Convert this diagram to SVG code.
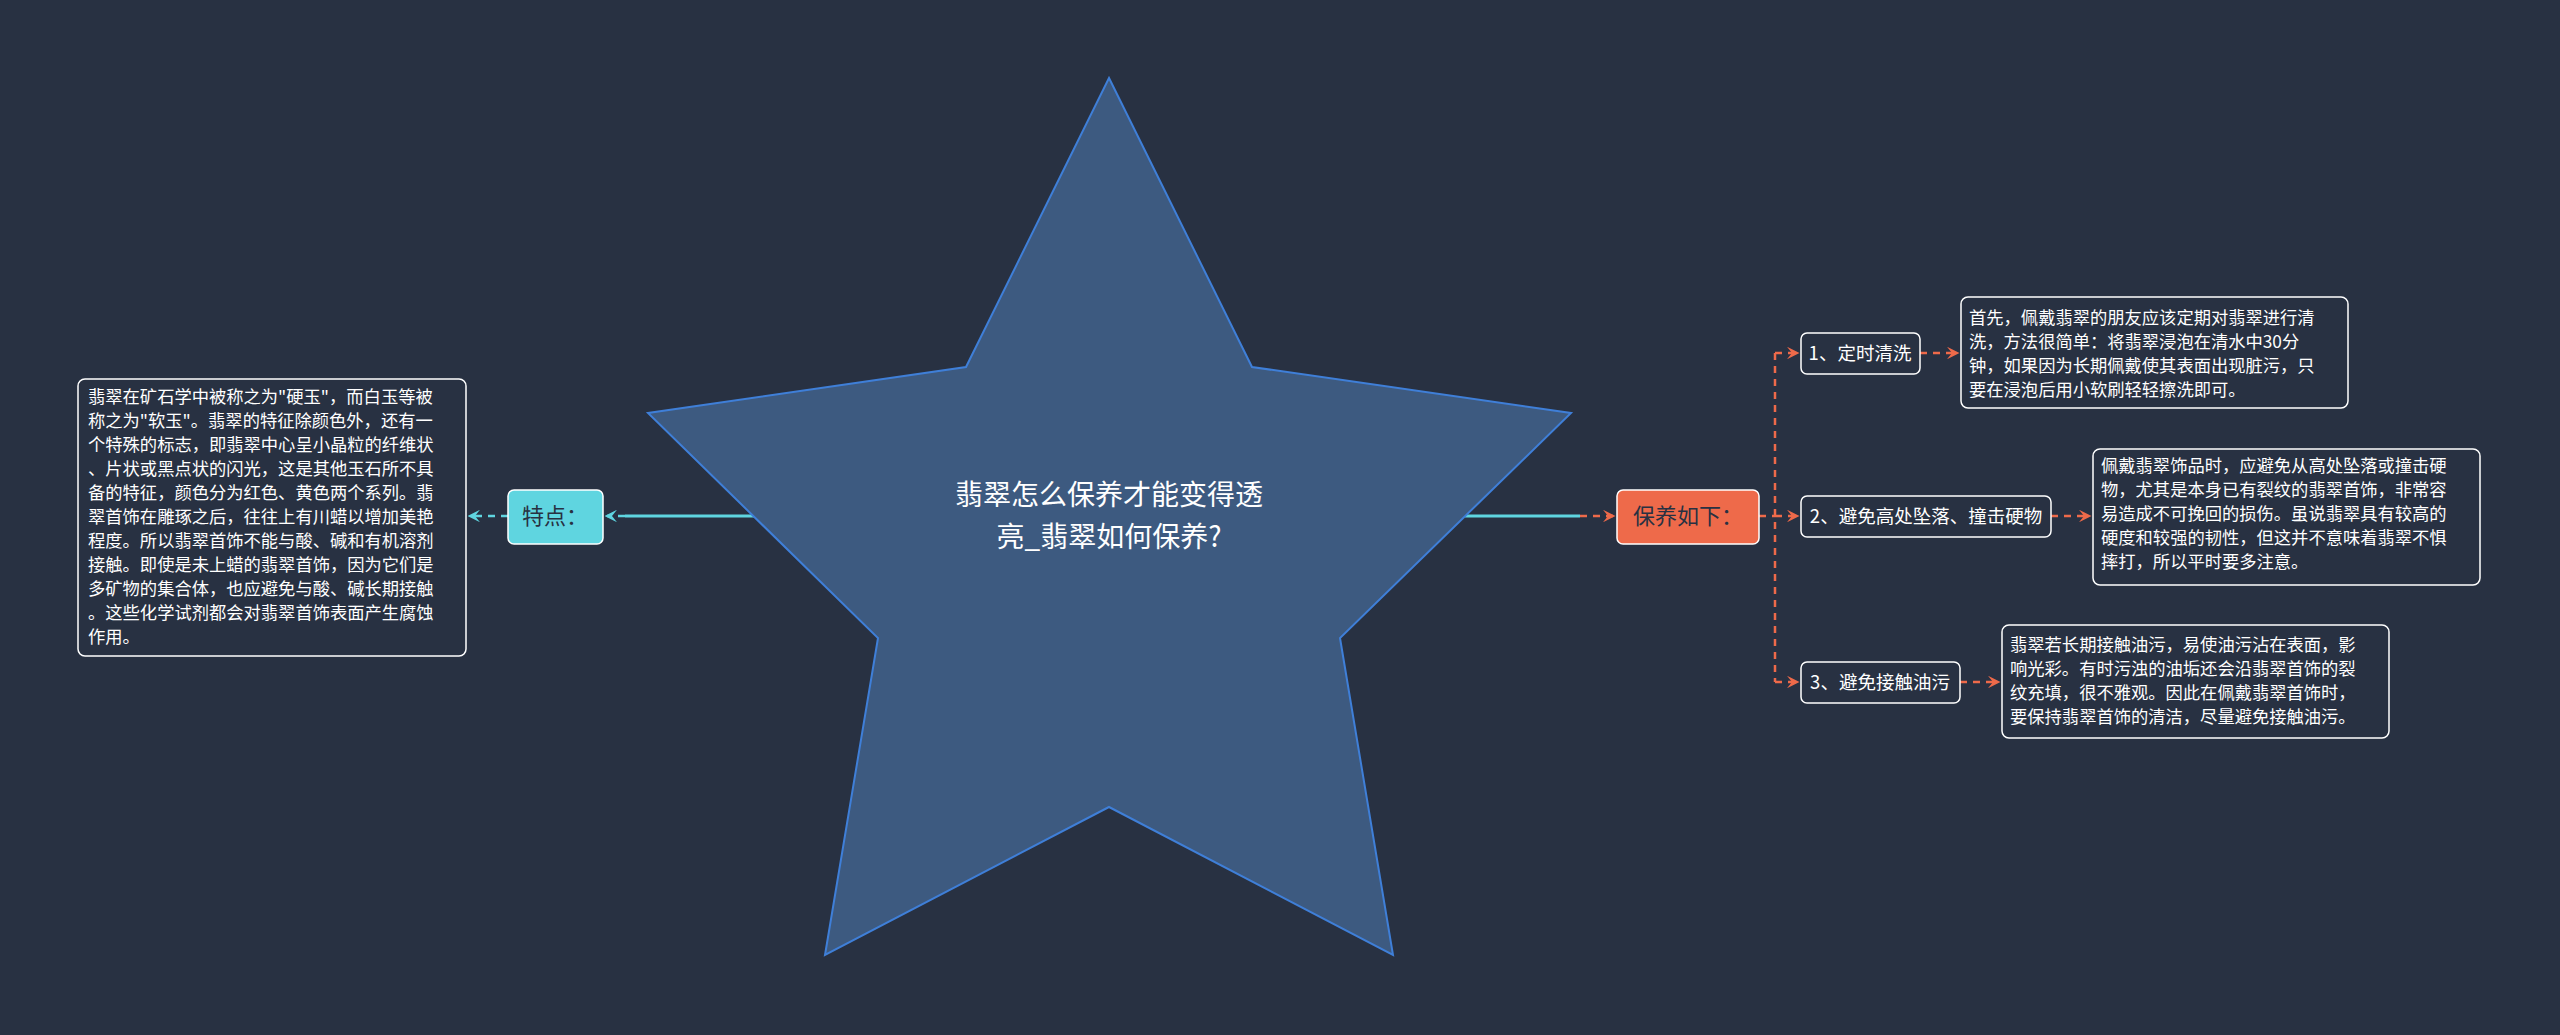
<svg xmlns="http://www.w3.org/2000/svg" width="2560" height="1035" viewBox="0 0 2560 1035">
<style>
text{font-family:"Noto Sans CJK SC","Noto Sans",sans-serif;}
.t{font-size:17.3px;fill:#ffffff;}
.l{font-size:18.5px;fill:#ffffff;}
.box{fill:#283142;stroke:#ffffff;stroke-width:1.5;}
.dc{fill:none;stroke:#5fd5e0;stroke-width:2.5;stroke-dasharray:7 6;}
.do{fill:none;stroke:#ee6a4a;stroke-width:2.5;stroke-dasharray:7 6;}
</style>
<defs>
<marker id="ac" viewBox="0 0 10 10" refX="8" refY="5" markerWidth="5" markerHeight="5" orient="auto"><path d="M0,0 L10,5 L0,10 L4,5 Z" fill="#5fd5e0"/></marker>
<marker id="ao" viewBox="0 0 10 10" refX="8" refY="5" markerWidth="5" markerHeight="5" orient="auto"><path d="M0,0 L10,5 L0,10 L4,5 Z" fill="#ee6a4a"/></marker>
</defs>
<rect width="2560" height="1035" fill="#283142"/>
<g id="connectors">
<path d="M755,516 H625" stroke="#5fd5e0" stroke-width="3" fill="none"/>
<path d="M625,516 H607" class="dc" marker-end="url(#ac)"/>
<path d="M508,516 H470" class="dc" marker-end="url(#ac)"/>
<path d="M1465,516 H1580" stroke="#5fd5e0" stroke-width="3" fill="none"/>
<path d="M1580,516 H1613" class="do" marker-end="url(#ao)"/>
<path d="M1759,516 H1775 M1775,353 V682" class="do"/>
<path d="M1775,353 H1797" class="do" marker-end="url(#ao)"/>
<path d="M1775,516 H1797" class="do" marker-end="url(#ao)"/>
<path d="M1775,682 H1797" class="do" marker-end="url(#ao)"/>
<path d="M1920,353 H1957" class="do" marker-end="url(#ao)"/>
<path d="M2051,516 H2089" class="do" marker-end="url(#ao)"/>
<path d="M1960,682 H1998" class="do" marker-end="url(#ao)"/>
</g>
<g id="center">
<polygon points="1109,78 1252,367 1571,413 1340,638 1393,955 1109,807 825,955 878,638 648,413 966,367" fill="#3d5a80" stroke="#3f7fd8" stroke-width="2"/>
<text x="1109" y="505" text-anchor="middle" font-size="28" fill="#ffffff">翡翠怎么保养才能变得透</text>
<text x="1109" y="547" text-anchor="middle" font-size="28" fill="#ffffff">亮_翡翠如何保养?</text>
</g>
<g id="tedian">
<rect x="508" y="490" width="95" height="54" rx="6" fill="#5fd5e0" stroke="#ffffff" stroke-width="1.5"/>
<text x="555" y="524" text-anchor="middle" font-size="22" fill="#283142">特点：</text>
</g>
<g id="tedian-detail">
<rect class="box" x="78" y="379" width="388" height="277" rx="7"/>
<text class="t" x="88" y="403">翡翠在矿石学中被称之为"硬玉"，而白玉等被</text>
<text class="t" x="88" y="427">称之为"软玉"。翡翠的特征除颜色外，还有一</text>
<text class="t" x="88" y="451">个特殊的标志，即翡翠中心呈小晶粒的纤维状</text>
<text class="t" x="88" y="475">、片状或黑点状的闪光，这是其他玉石所不具</text>
<text class="t" x="88" y="499">备的特征，颜色分为红色、黄色两个系列。翡</text>
<text class="t" x="88" y="523">翠首饰在雕琢之后，往往上有川蜡以增加美艳</text>
<text class="t" x="88" y="547">程度。所以翡翠首饰不能与酸、碱和有机溶剂</text>
<text class="t" x="88" y="571">接触。即使是未上蜡的翡翠首饰，因为它们是</text>
<text class="t" x="88" y="595">多矿物的集合体，也应避免与酸、碱长期接触</text>
<text class="t" x="88" y="619">。这些化学试剂都会对翡翠首饰表面产生腐蚀</text>
<text class="t" x="88" y="643">作用。</text>
</g>
<g id="baoyang">
<rect x="1617" y="490" width="142" height="54" rx="6" fill="#ee6a4a" stroke="#ffffff" stroke-width="1.5"/>
<text x="1688" y="524" text-anchor="middle" font-size="22" fill="#283142">保养如下：</text>
</g>
<g id="item1">
<rect class="box" x="1801" y="333" width="119" height="41" rx="6"/>
<text class="l" x="1860" y="360" text-anchor="middle">1、定时清洗</text>
</g>
<g id="item1-detail">
<rect class="box" x="1961" y="297" width="387" height="111" rx="7"/>
<text class="t" x="1969" y="324">首先，佩戴翡翠的朋友应该定期对翡翠进行清</text>
<text class="t" x="1969" y="348">洗，方法很简单：将翡翠浸泡在清水中30分</text>
<text class="t" x="1969" y="372">钟，如果因为长期佩戴使其表面出现脏污，只</text>
<text class="t" x="1969" y="396">要在浸泡后用小软刷轻轻擦洗即可。</text>
</g>
<g id="item2">
<rect class="box" x="1801" y="496" width="250" height="41" rx="6"/>
<text class="l" x="1926" y="523" text-anchor="middle">2、避免高处坠落、撞击硬物</text>
</g>
<g id="item2-detail">
<rect class="box" x="2093" y="449" width="387" height="136" rx="7"/>
<text class="t" x="2101" y="472">佩戴翡翠饰品时，应避免从高处坠落或撞击硬</text>
<text class="t" x="2101" y="496">物，尤其是本身已有裂纹的翡翠首饰，非常容</text>
<text class="t" x="2101" y="520">易造成不可挽回的损伤。虽说翡翠具有较高的</text>
<text class="t" x="2101" y="544">硬度和较强的韧性，但这并不意味着翡翠不惧</text>
<text class="t" x="2101" y="568">摔打，所以平时要多注意。</text>
</g>
<g id="item3">
<rect class="box" x="1801" y="662" width="159" height="41" rx="6"/>
<text class="l" x="1880" y="689" text-anchor="middle">3、避免接触油污</text>
</g>
<g id="item3-detail">
<rect class="box" x="2002" y="625" width="387" height="113" rx="7"/>
<text class="t" x="2010" y="651">翡翠若长期接触油污，易使油污沾在表面，影</text>
<text class="t" x="2010" y="675">响光彩。有时污浊的油垢还会沿翡翠首饰的裂</text>
<text class="t" x="2010" y="699">纹充填，很不雅观。因此在佩戴翡翠首饰时，</text>
<text class="t" x="2010" y="723">要保持翡翠首饰的清洁，尽量避免接触油污。</text>
</g>
</svg>
